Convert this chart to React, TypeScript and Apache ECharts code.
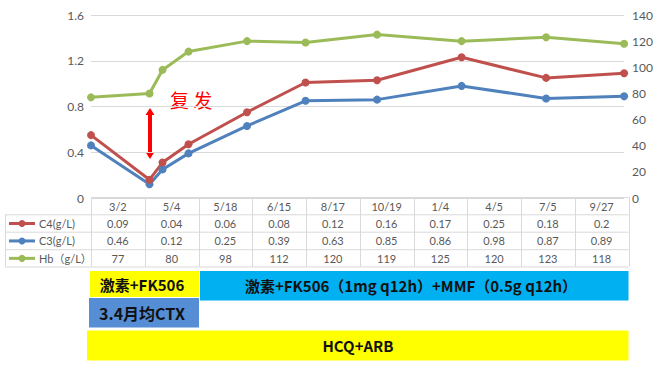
import React, { useEffect, useRef } from "react";
import * as echarts from "echarts";

const dates = [
  "2018-03-02", "2018-05-04", "2018-05-18", "2018-06-15", "2018-08-17",
  "2018-10-19", "2019-01-04", "2019-04-05", "2019-07-05", "2019-09-27",
];
const dateLabels = ["3/2", "5/4", "5/18", "6/15", "8/17", "10/19", "1/4", "4/5", "7/5", "9/27"];
const c4 = [0.09, 0.04, 0.06, 0.08, 0.12, 0.16, 0.17, 0.25, 0.18, 0.2];
const c3 = [0.46, 0.12, 0.25, 0.39, 0.63, 0.85, 0.86, 0.98, 0.87, 0.89];
const hb = [77, 80, 98, 112, 120, 119, 125, 120, 123, 118];
const c4Text = ["0.09", "0.04", "0.06", "0.08", "0.12", "0.16", "0.17", "0.25", "0.18", "0.2"];
const c3Text = ["0.46", "0.12", "0.25", "0.39", "0.63", "0.85", "0.86", "0.98", "0.87", "0.89"];
const rowNames = ["C4(g/L)", "C3(g/L)", "Hb（g/L）"];
const rowColors = ["#c0504d", "#4f81bd", "#9bbb59"];

const FONT = "Lato, 'Noto Sans CJK SC', sans-serif";
const CJK = "'Noto Sans CJK SC', sans-serif";
const GRID_COLOR = "#d9d9d9";
const TEXT_COLOR = "#595959";

export default function App() {
  const ref = useRef<HTMLDivElement>(null);
  useEffect(() => {
    if (!ref.current) return;
    const chart = echarts.init(ref.current, undefined, { renderer: "svg" });

    const x0 = 91;
    const x1 = 628.5;
    const cw = (x1 - x0) / dateLabels.length;
    const rowY = [197, 214.3, 231.7, 249.2, 266.5];
    const legX = 5;
    const g: any[] = [];
    rowY.forEach((y, i) => {
      g.push({
        type: "line",
        shape: { x1: i === 0 ? x0 : legX, y1: y + 0.5, x2: x1, y2: y + 0.5 },
        style: { stroke: GRID_COLOR, lineWidth: 1 },
        silent: true,
      });
    });
    for (let i = 0; i <= dateLabels.length; i++) {
      const x = Math.round(x0 + i * cw) + 0.5;
      g.push({
        type: "line",
        shape: { x1: x, y1: rowY[0], x2: x, y2: rowY[4] },
        style: { stroke: GRID_COLOR, lineWidth: 1 },
        silent: true,
      });
    }
    g.push({
      type: "line",
      shape: { x1: legX + 0.5, y1: rowY[1], x2: legX + 0.5, y2: rowY[4] },
      style: { stroke: GRID_COLOR, lineWidth: 1 },
      silent: true,
    });
    const rows = [dateLabels, c4Text, c3Text, hb.map(String)];
    rows.forEach((row, r) => {
      row.forEach((t, i) => {
        g.push({
          type: "text",
          x: x0 + (i + 0.5) * cw,
          y: (rowY[r] + rowY[r + 1]) / 2 + 0.5,
          style: {
            text: t,
            fill: TEXT_COLOR,
            font: `11px ${FONT}`,
            textAlign: "center",
            textVerticalAlign: "middle",
          },
          silent: true,
        });
      });
    });
    rowNames.forEach((name, r) => {
      const cy = (rowY[r + 1] + rowY[r + 2]) / 2 + 0.5;
      g.push({
        type: "line",
        shape: { x1: 9, y1: cy, x2: 35, y2: cy },
        style: { stroke: rowColors[r], lineWidth: 3 },
        silent: true,
      });
      g.push({
        type: "circle",
        shape: { cx: 22, cy, r: 3.5 },
        style: { fill: rowColors[r] },
        silent: true,
      });
      g.push({
        type: "text",
        x: 39,
        y: cy,
        style: {
          text: name,
          fill: TEXT_COLOR,
          font: `11px ${FONT}`,
          textAlign: "left",
          textVerticalAlign: "middle",
        },
        silent: true,
      });
    });

    const boxes = [
      { x: 90, y: 271, w: 109, h: 26, fill: "#ffff00", text: "激素+FK506", tx: 142, fs: 15 },
      { x: 200, y: 271, w: 428.5, h: 29.5, fill: "#00b0f0", text: "激素+FK506（1mg q12h）+MMF（0.5g q12h）", tx: 411, fs: 15 },
      { x: 89, y: 298, w: 110, h: 29.5, fill: "#558ed5", text: "3.4月均CTX", tx: 142, fs: 16 },
      { x: 87, y: 330.5, w: 541.5, h: 30, fill: "#ffff00", text: "HCQ+ARB", tx: 358, fs: 15 },
    ];
    boxes.forEach((b) => {
      g.push({
        type: "rect",
        shape: { x: b.x, y: b.y, width: b.w, height: b.h },
        style: { fill: b.fill },
        silent: true,
      });
      g.push({
        type: "text",
        x: b.tx,
        y: b.y + b.h / 2,
        style: {
          text: b.text,
          fill: "#111",
          font: `bold ${b.fs}px ${CJK}`,
          textAlign: "center",
          textVerticalAlign: "middle",
        },
        silent: true,
      });
    });

    const ax = 150;
    g.push({
      type: "line",
      shape: { x1: ax, y1: 114, x2: ax, y2: 153 },
      style: { stroke: "#ff0000", lineWidth: 4 },
      silent: true,
    });
    g.push({
      type: "polygon",
      shape: { points: [[ax, 108], [ax - 4.5, 115], [ax + 4.5, 115]] },
      style: { fill: "#ff0000" },
      silent: true,
    });
    g.push({
      type: "polygon",
      shape: { points: [[ax, 159], [ax - 4.5, 152], [ax + 4.5, 152]] },
      style: { fill: "#ff0000" },
      silent: true,
    });
    g.push({
      type: "text",
      x: 191,
      y: 99,
      style: {
        text: "复 发",
        fill: "#ff0000",
        font: `19px ${CJK}`,
        textAlign: "center",
        textVerticalAlign: "middle",
      },
      silent: true,
    });

    const mk = (vals: number[]) => vals.map((v, i) => [dates[i], v]);

    chart.setOption({
      animation: false,
      grid: { left: 91, right: 28, top: 15, bottom: 167, containLabel: false },
      xAxis: {
        type: "time",
        min: dates[0],
        max: dates[dates.length - 1],
        show: false,
      },
      yAxis: [
        {
          type: "value",
          min: 0,
          max: 1.6,
          interval: 0.4,
          axisLine: { show: false },
          axisTick: { show: false },
          axisLabel: { color: TEXT_COLOR, fontSize: 12, fontFamily: FONT, margin: 7 },
          splitLine: { lineStyle: { color: GRID_COLOR, width: 1 } },
        },
        {
          type: "value",
          min: 0,
          max: 140,
          interval: 20,
          axisLine: { show: false },
          axisTick: { show: false },
          axisLabel: { color: TEXT_COLOR, fontSize: 12, fontFamily: FONT, margin: 8 },
          splitLine: { show: false },
        },
      ],
      series: [
        {
          name: "C3(g/L)",
          type: "line",
          stack: "comp",
          data: mk(c3),
          symbol: "circle",
          symbolSize: 8,
          lineStyle: { color: rowColors[1], width: 3 },
          itemStyle: { color: rowColors[1] },
        },
        {
          name: "C4(g/L)",
          type: "line",
          stack: "comp",
          data: mk(c4),
          symbol: "circle",
          symbolSize: 8,
          lineStyle: { color: rowColors[0], width: 3 },
          itemStyle: { color: rowColors[0] },
        },
        {
          name: "Hb（g/L）",
          type: "line",
          yAxisIndex: 1,
          data: mk(hb),
          symbol: "circle",
          symbolSize: 8,
          lineStyle: { color: rowColors[2], width: 3 },
          itemStyle: { color: rowColors[2] },
        },
      ],
      graphic: g,
    });
    return () => chart.dispose();
  }, []);
  return (
    <div
      ref={ref}
      style={{ position: "fixed", left: 0, top: 0, width: 656, height: 365, background: "#fff" }}
    />
  );
}
